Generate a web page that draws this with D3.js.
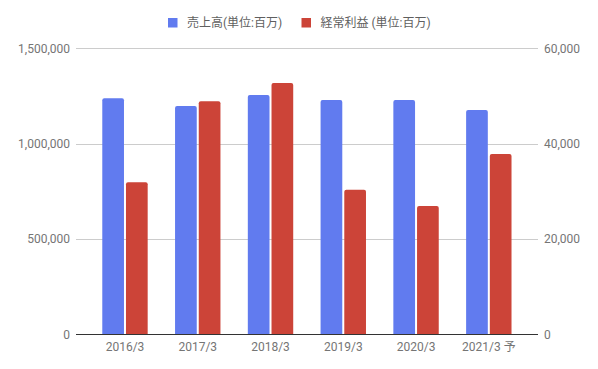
<!DOCTYPE html>
<html><head><meta charset="utf-8">
<script src="https://cdn.jsdelivr.net/npm/d3@7/dist/d3.min.js"></script>
<style>body{margin:0;background:#fff}svg{display:block}text{font-family:Roboto,"Noto Sans CJK JP",sans-serif}</style>
</head><body><svg id="c" width="598" height="369"></svg>
<script>
const categories = ["2016/3","2017/3","2018/3","2019/3","2020/3","2021/3 予"];
const sales = [1238000,1198000,1255000,1229000,1229000,1177000];
const ordinaryProfit = [31900,48900,52700,30300,26900,37800];
const leftTicks = [0,500000,1000000,1500000];
const rightTicks = [0,20000,40000,60000];
const seriesNames = ["売上高(単位:百万)","経常利益 (単位:百万)"];
const colors = ["#617BEF","#CC4438"];

(function(){
const svg = d3.select("#c");
const pL = 76, pR = 538, pT = 48.3, pB = 334.3;
const x = d3.scaleBand().domain(categories).range([88.6, 525.2]);
const yL = d3.scaleLinear().domain([0,1500000]).range([pB, pT]);
const yR = d3.scaleLinear().domain([0,60000]).range([pB, pT]);
const fmt = d3.format(",");

svg.append("g").selectAll("line").data(leftTicks.filter(d=>d>0)).join("line")
  .attr("x1",pL).attr("x2",pR).attr("y1",d=>Math.round(yL(d))+0.5).attr("y2",d=>Math.round(yL(d))+0.5)
  .attr("stroke","#cccccc").attr("stroke-width",1);

const gl = svg.append("g").attr("transform",`translate(${pL},0)`)
  .call(d3.axisLeft(yL).tickValues(leftTicks).tickFormat(fmt).tickSize(0).tickPadding(6));
const gr = svg.append("g").attr("transform",`translate(${pR},0)`)
  .call(d3.axisRight(yR).tickValues(rightTicks).tickFormat(fmt).tickSize(0).tickPadding(6));
[gl,gr].forEach(g=>{g.select(".domain").remove();
  g.selectAll("text").attr("fill","#757575").attr("font-size",12).attr("font-family","Roboto,sans-serif");});

const barW = 21.7, gap = 2;
function roundTop(x0,y0,w,h,r){
  r=Math.min(r,h);
  return `M${x0},${y0+h}V${y0+r}Q${x0},${y0} ${x0+r},${y0}H${x0+w-r}Q${x0+w},${y0} ${x0+w},${y0+r}V${y0+h}Z`;
}
const bw = x.bandwidth();
svg.append("g").selectAll("path").data(categories).join("path")
  .attr("d",(c,i)=>{const cx=x(c)+bw/2; const y0=yL(sales[i]); return roundTop(cx-gap/2-barW,y0,barW,pB-y0,2);})
  .attr("fill",colors[0]);
svg.append("g").selectAll("path").data(categories).join("path")
  .attr("d",(c,i)=>{const cx=x(c)+bw/2; const y0=yR(ordinaryProfit[i]); return roundTop(cx+gap/2,y0,barW,pB-y0,2);})
  .attr("fill",colors[1]);

svg.append("line").attr("x1",pL).attr("x2",pR).attr("y1",Math.round(pB)+0.5).attr("y2",Math.round(pB)+0.5)
  .attr("stroke","#333").attr("stroke-width",1);

const gx = svg.append("g").attr("transform",`translate(0,${pB})`)
  .call(d3.axisBottom(x).tickSize(0).tickPadding(8));
gx.select(".domain").remove();
gx.selectAll("text").attr("fill","#757575").attr("font-size",12).attr("font-family","Roboto,'Noto Sans CJK JP',sans-serif");

const legX = [168, 301.5];
const leg = svg.append("g");
seriesNames.forEach((n,i)=>{
  leg.append("rect").attr("x",legX[i]).attr("y",18).attr("width",9.5).attr("height",9.5).attr("fill",colors[i]);
  leg.append("text").attr("x",legX[i]+19).attr("y",27).attr("font-size",12).attr("fill","#5f5f5f")
    .attr("font-family","Roboto,'Noto Sans CJK JP',sans-serif").text(n);
});
})();
</script></body></html>
